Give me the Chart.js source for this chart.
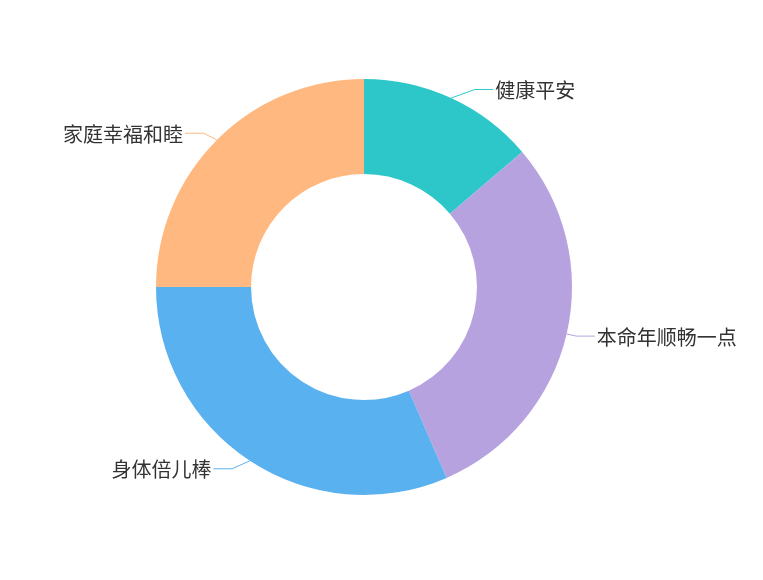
<!DOCTYPE html>
<html>
<head>
<meta charset="utf-8">
<script src="https://cdn.jsdelivr.net/npm/chart.js@4/dist/chart.umd.min.js"></script>
<style>
  html, body { margin: 0; padding: 0; background: #fff; }
  #wrap { width: 763px; height: 580px; }
</style>
</head>
<body>
<div id="wrap"><canvas id="pieChart" width="763" height="580"></canvas></div>
<script>
// Wish categories and their shares
const categories = ['健康平安', '本命年顺畅一点', '身体倍儿棒', '家庭幸福和睦'];
const values = [55, 119, 126, 100];
const sliceColors = ['#2ec7c9', '#b6a2de', '#5ab1ef', '#ffb980'];

// Outside labels with a bent leader line, drawn from each arc's geometry.
// Label y comes from the radial direction, label x is pushed onto a wider circle.
const outsideLabels = {
    id: 'outsideLabels',
    afterDatasetsDraw(chart) {
        const ctx = chart.ctx;
        const meta = chart.getDatasetMeta(0);
        const len = 9.5, len2 = 18.5;
        ctx.save();
        ctx.font = '20px "Noto Sans CJK SC", sans-serif';
        ctx.textBaseline = 'middle';
        meta.data.forEach(function(arc, i) {
            const mid = (arc.startAngle + arc.endAngle) / 2;
            const cos = Math.cos(mid), sin = Math.sin(mid);
            const r = arc.outerRadius;
            const dir = cos >= 0 ? 1 : -1;
            const x0 = arc.x + cos * r, y0 = arc.y + sin * r;
            const ly = arc.y + sin * (r + len);
            const R = r + len + len2;
            const dy = ly - arc.y;
            const lx = arc.x + dir * Math.sqrt(Math.max(R * R - dy * dy, 0));
            const ex = lx - dir * len2;

            ctx.strokeStyle = sliceColors[i];
            ctx.lineWidth = 1;
            ctx.beginPath();
            ctx.moveTo(x0, y0);
            ctx.lineTo(ex, ly);
            ctx.lineTo(lx, ly);
            ctx.stroke();

            ctx.fillStyle = '#333';
            ctx.textAlign = dir > 0 ? 'left' : 'right';
            ctx.fillText(categories[i], lx + dir * 2, ly + 1);
        });
        ctx.restore();
    }
};

new Chart(document.getElementById('pieChart'), {
    type: 'doughnut',
    data: {
        labels: categories,
        datasets: [{
            data: values,
            backgroundColor: sliceColors,
            borderWidth: 0,
            hoverOffset: 0
        }]
    },
    options: {
        responsive: false,
        animation: false,
        cutout: '54.3%',
        layout: {
            padding: { left: 156, right: 191, top: 79, bottom: 85 }
        },
        plugins: {
            legend: { display: false },
            tooltip: { enabled: false }
        }
    },
    plugins: [outsideLabels]
});
</script>
</body>
</html>
